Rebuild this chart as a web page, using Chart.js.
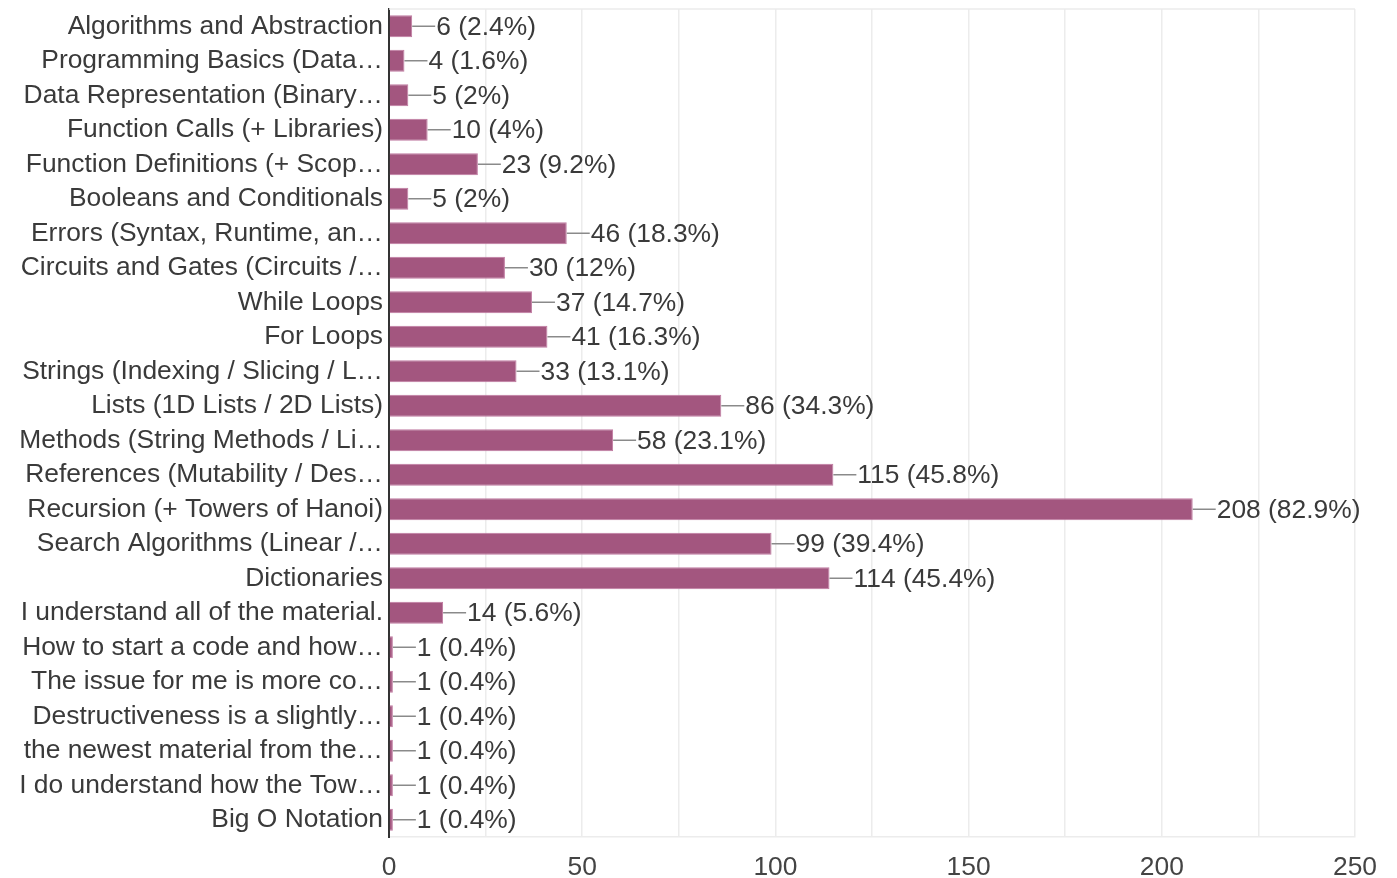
<!DOCTYPE html>
<html>
<head>
<meta charset="utf-8">
<script src="https://cdn.jsdelivr.net/npm/chart.js@4"></script>
<style>
  html, body { margin: 0; padding: 0; background: #fff; }
  #wrap { width: 1397px; height: 878px; }
</style>
</head>
<body>
<div id="wrap"><canvas id="myChart" width="1397" height="878"></canvas></div>
<script>
// labels as shown (already truncated in the original)
const topics = [
  'Algorithms and Abstraction',
  'Programming Basics (Data…',
  'Data Representation (Binary…',
  'Function Calls (+ Libraries)',
  'Function Definitions (+ Scop…',
  'Booleans and Conditionals',
  'Errors (Syntax, Runtime, an…',
  'Circuits and Gates (Circuits /…',
  'While Loops',
  'For Loops',
  'Strings (Indexing / Slicing / L…',
  'Lists (1D Lists / 2D Lists)',
  'Methods (String Methods / Li…',
  'References (Mutability / Des…',
  'Recursion (+ Towers of Hanoi)',
  'Search Algorithms (Linear /…',
  'Dictionaries',
  'I understand all of the material.',
  'How to start a code and how…',
  'The issue for me is more co…',
  'Destructiveness is a slightly…',
  'the newest material from the…',
  'I do understand how the Tow…',
  'Big O Notation'
];
const counts = [6, 4, 5, 10, 23, 5, 46, 30, 37, 41, 33, 86, 58, 115, 208, 99, 114, 14, 1, 1, 1, 1, 1, 1];
const percents = ['2.4', '1.6', '2', '4', '9.2', '2', '18.3', '12', '14.7', '16.3', '13.1', '34.3', '23.1', '45.8', '82.9', '39.4', '45.4', '5.6', '0.4', '0.4', '0.4', '0.4', '0.4', '0.4'];
const xTicks = [0, 50, 100, 150, 200, 250];

const FONT = '"Liberation Sans", Arial, sans-serif';
const FSIZE = 26.4;
const barColor = '#a3567f';

// leader line + "n (p%)" text after every bar
const valueLabels = {
  id: 'valueLabels',
  afterDatasetsDraw(chart) {
    const ctx = chart.ctx;
    const meta = chart.getDatasetMeta(0);
    ctx.save();
    ctx.font = FSIZE + 'px ' + FONT;
    ctx.textBaseline = 'middle';
    ctx.textAlign = 'left';
    meta.data.forEach((bar, i) => {
      const x = bar.x;
      const y = bar.y;
      ctx.strokeStyle = '#8a8a8a';
      ctx.lineWidth = 1.5;
      ctx.beginPath();
      ctx.moveTo(x, y);
      ctx.lineTo(x + 23, y);
      ctx.stroke();
      ctx.fillStyle = '#3a3a3a';
      ctx.fillText(counts[i] + ' (' + percents[i] + '%)', x + 24, y + 1);
    });
    ctx.restore();
  }
};

// light top border line of the plot
const topBorder = {
  id: 'topBorder',
  beforeDatasetsDraw(chart) {
    const { ctx, chartArea } = chart;
    ctx.save();
    ctx.strokeStyle = '#ebebeb';
    ctx.lineWidth = 1.5;
    ctx.beginPath();
    ctx.moveTo(chartArea.left, chartArea.top);
    ctx.lineTo(chartArea.right, chartArea.top);
    ctx.stroke();
    ctx.restore();
  }
};

new Chart(document.getElementById('myChart'), {
  type: 'bar',
  data: {
    labels: topics,
    datasets: [{
      data: counts,
      backgroundColor: barColor,
      borderColor: '#c07aa1',
      borderWidth: 1,
      barPercentage: 0.64,
      categoryPercentage: 1
    }]
  },
  options: {
    indexAxis: 'y',
    responsive: false,
    animation: false,
    layout: { padding: { top: 9, right: 42, bottom: 0, left: 0 } },
    plugins: {
      legend: { display: false },
      tooltip: { enabled: false }
    },
    scales: {
      x: {
        min: 0,
        max: 250,
        ticks: {
          stepSize: 25,
          padding: 15,
          color: '#444',
          font: { family: FONT, size: FSIZE },
          maxRotation: 0,
          callback: (v) => xTicks.includes(v) ? v : ''
        },
        grid: { color: '#ececec', lineWidth: 1.5, drawTicks: false },
        border: { color: '#ececec', width: 1.5 },
        afterFit: (s) => { s.height = 41; s.paddingLeft = 0; s.paddingRight = 0; }
      },
      y: {
        ticks: {
          padding: 6,
          color: '#3a3a3a',
          autoSkip: false,
          font: { family: FONT, size: FSIZE }
        },
        grid: { display: false, drawTicks: false },
        border: { color: '#333', width: 2 },
        afterFit: (s) => { s.width = 389; s.paddingTop = 0; s.paddingBottom = 0; }
      }
    }
  },
  plugins: [valueLabels, topBorder]
});
</script>
</body>
</html>
